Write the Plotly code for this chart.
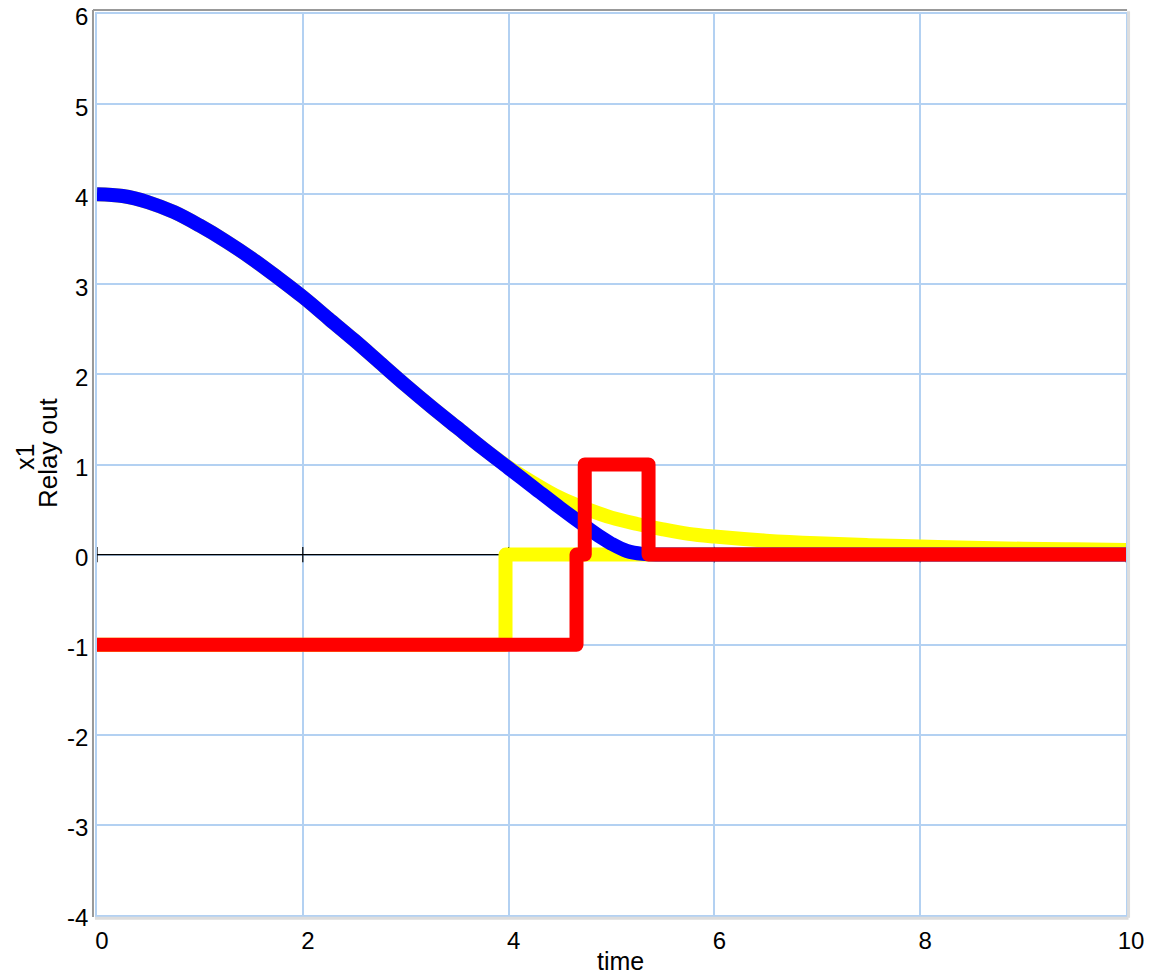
import plotly.graph_objects as go

# ---- data ----
t_x1 = [0, 0.25, 0.5, 0.75, 1.0, 1.25, 1.5, 1.75, 2.0, 2.25, 2.5, 2.75, 3.0,
        3.25, 3.5, 3.75, 4.0, 4.25, 4.5, 4.75, 4.9, 5.0, 5.15, 5.3, 5.5, 10.0]
x1_blue = [4.0, 3.98, 3.91, 3.80, 3.65, 3.48, 3.29, 3.08, 2.86, 2.62, 2.38, 2.13, 1.88,
           1.64, 1.41, 1.18, 0.96, 0.74, 0.52, 0.31, 0.19, 0.12, 0.04, 0.008, 0.0, 0.0]

t_x1_y = [0, 0.25, 0.5, 0.75, 1.0, 1.25, 1.5, 1.75, 2.0, 2.25, 2.5, 2.75, 3.0,
          3.25, 3.5, 3.75, 4.0, 4.25, 4.5, 4.75, 5.0, 5.25, 5.5, 5.75, 6.0,
          6.5, 7.0, 7.5, 8.0, 8.5, 9.0, 9.5, 10.0]
x1_yellow = [4.0, 3.98, 3.91, 3.80, 3.65, 3.48, 3.29, 3.08, 2.86, 2.62, 2.38, 2.13, 1.88,
             1.64, 1.41, 1.18, 0.97, 0.79, 0.63, 0.51, 0.41, 0.34, 0.28, 0.23, 0.20,
             0.155, 0.125, 0.105, 0.09, 0.075, 0.065, 0.058, 0.052]

t_relay_yellow = [0, 3.97, 10.0]
relay_yellow = [-1, 0, 0]

t_relay_red = [0, 4.66, 4.74, 5.36, 10.0]
relay_red = [-1, 0, 1, 0, 0]

x_ticks = [0, 2, 4, 6, 8, 10]
y_ticks = [-4, -3, -2, -1, 0, 1, 2, 3, 4, 5, 6]

GRID = "#b3d1f2"
LW = 14
FONT = "Liberation Sans, Arial, sans-serif"

fig = go.Figure()

# zero axis line with ticks
fig.add_trace(go.Scatter(x=[x_ticks[0], x_ticks[-1]], y=[0, 0], mode="lines",
                         line=dict(color="black", width=1.2), hoverinfo="skip"))
fig.add_trace(go.Scatter(x=x_ticks, y=[0] * len(x_ticks), mode="markers",
                         marker=dict(symbol="line-ns", size=11,
                                     line=dict(color="black", width=1.2)),
                         hoverinfo="skip"))

fig.add_trace(go.Scatter(x=t_relay_yellow, y=relay_yellow, mode="lines", line_shape="hv",
                         line=dict(color="#ffff00", width=LW)))
fig.add_trace(go.Scatter(x=t_x1_y, y=x1_yellow, mode="lines", line_shape="spline",
                         line=dict(color="#ffff00", width=LW)))
fig.add_trace(go.Scatter(x=t_x1, y=x1_blue, mode="lines", line_shape="spline",
                         line=dict(color="#0000ff", width=LW)))
fig.add_trace(go.Scatter(x=t_relay_red, y=relay_red, mode="lines", line_shape="hv",
                         line=dict(color="#ff0000", width=LW)))

fig.update_layout(
    width=1150, height=977,
    margin=dict(l=97, r=24, t=14, b=62, autoexpand=False),
    paper_bgcolor="white", plot_bgcolor="white",
    showlegend=False,
    font=dict(family=FONT, size=24, color="black"),
    xaxis=dict(range=[0, 10], tickvals=x_ticks, ticktext=[str(v) for v in x_ticks],
               showgrid=True, gridcolor=GRID, gridwidth=1.5,
               showline=True, linecolor=GRID, linewidth=1.5, mirror=True,
               zeroline=False, ticks="", ticklabelshift=5, ticklabelstandoff=3,
               ticklabeloverflow="allow", automargin=False,
               tickfont=dict(size=24, family=FONT)),
    yaxis=dict(range=[-4, 6], tickvals=y_ticks, ticktext=[str(v) for v in y_ticks],
               showgrid=True, gridcolor=GRID, gridwidth=1.5,
               showline=True, linecolor=GRID, linewidth=1.5, mirror=True,
               zeroline=False, ticks="", ticklabelshift=3, ticklabelstandoff=2,
               ticklabeloverflow="allow", automargin=False,
               tickfont=dict(size=24, family=FONT)),
    annotations=[
        dict(text="time", xref="paper", yref="paper", x=0.5083, y=-0.0516,
             xanchor="center", yanchor="middle", showarrow=False,
             font=dict(size=25, family=FONT)),
        dict(text="x1", xref="paper", yref="paper", x=-0.070, y=0.5083,
             xanchor="center", yanchor="middle", showarrow=False, textangle=-90,
             font=dict(size=25, family=FONT)),
        dict(text="Relay out", xref="paper", yref="paper", x=-0.0476, y=0.5127,
             xanchor="center", yanchor="middle", showarrow=False, textangle=-90,
             font=dict(size=26, family=FONT)),
    ],
    shapes=[
        dict(type="line", xref="paper", yref="paper", x0=-0.0039, x1=-0.0039,
             y0=-0.0022, y1=1.0044, line=dict(color="#999999", width=2)),
        dict(type="line", xref="paper", yref="paper", x0=-0.0039, x1=1.001,
             y0=1.0044, y1=1.0044, line=dict(color="#999999", width=2)),
        dict(type="line", xref="paper", yref="paper", x0=1.0025, x1=1.0025,
             y0=-0.003, y1=1.003, line=dict(color="#dddddd", width=3)),
        dict(type="line", xref="paper", yref="paper", x0=-0.002, x1=1.0025,
             y0=-0.0035, y1=-0.0035, line=dict(color="#dddddd", width=3)),
    ],
)

post = """
document.body.style.margin='0';
document.querySelectorAll('.scatterlayer path.js-line').forEach(function(p){
  p.style.strokeLinejoin='round';
});
"""
fig.write_html("out.html", post_script=post, config={"displayModeBar": False})
